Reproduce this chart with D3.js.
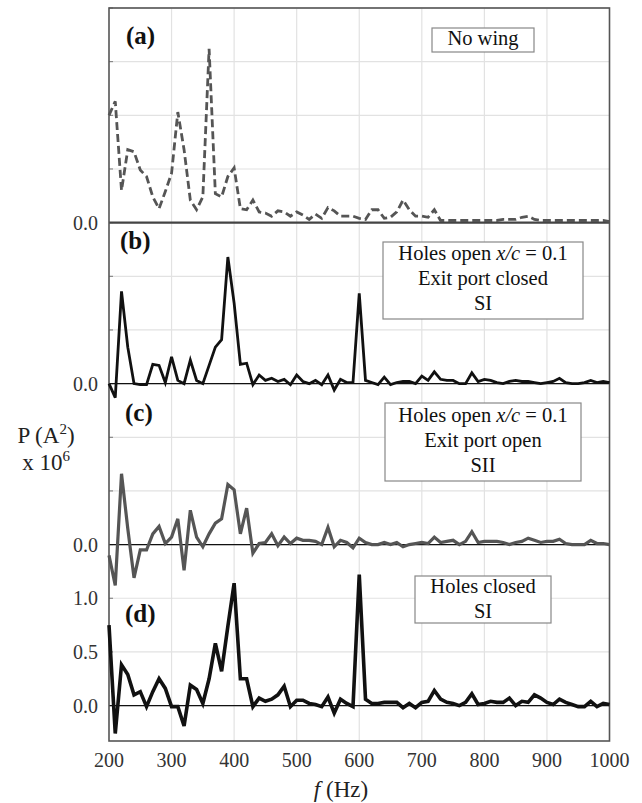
<!DOCTYPE html>
<head>
    <style>
        body { margin: 0; background: #fff; }
        svg { display: block; }
        text { font-family: "Liberation Serif", "DejaVu Serif", "Times New Roman", Times, serif; }
    </style>
</head>
<body>
    <script src="https://d3js.org/d3.v7.min.js"></script>
    <script>
        const w = 642, h = 803;
        const serif = '"Liberation Serif", "DejaVu Serif", "Times New Roman", Times, serif';

        // frequency samples (Hz), one every 10 Hz
        const freq = d3.range(200, 1001, 10);

        // P (A^2) x 10^6 for each panel
        const noWing = [
            1.00, 1.13, 0.30, 0.68, 0.66, 0.49, 0.43, 0.24, 0.13, 0.29,
            0.46, 1.03, 0.68, 0.21, 0.12, 0.24, 1.62, 0.27, 0.24, 0.43,
            0.51, 0.13, 0.12, 0.21, 0.10, 0.09, 0.06, 0.11, 0.10, 0.06,
            0.10, 0.07, 0.03, 0.08, 0.04, 0.14, 0.11, 0.06, 0.06, 0.06,
            0.04, 0.03, 0.12, 0.12, 0.04, 0.05, 0.10, 0.21, 0.12, 0.06,
            0.06, 0.05, 0.12, 0.02, 0.02, 0.02, 0.02, 0.02, 0.02, 0.02,
            0.02, 0.02, 0.02, 0.03, 0.03, 0.03, 0.05, 0.06, 0.03, 0.02,
            0.02, 0.02, 0.02, 0.02, 0.02, 0.02, 0.02, 0.02, 0.02, 0.02,
            0.01
        ];
        const openClosedSI = [
            0.00, -0.13, 0.86, 0.34, 0.00, -0.01, -0.01, 0.18, 0.17, 0.01,
            0.25, 0.03, 0.00, 0.22, 0.03, 0.00, 0.17, 0.34, 0.41, 1.18,
            0.75, 0.18, 0.19, -0.01, 0.08, 0.03, 0.05, 0.02, 0.04, -0.01,
            0.08, 0.02, 0.00, 0.03, -0.01, 0.08, -0.06, 0.04, 0.01, 0.01,
            0.84, 0.03, 0.01, -0.01, 0.06, -0.01, 0.01, 0.02, 0.02, 0.00,
            0.07, 0.03, 0.11, 0.04, 0.03, 0.03, 0.00, 0.00, 0.10, 0.02,
            0.04, 0.03, 0.01, 0.00, 0.02, 0.03, 0.02, 0.02, 0.01, 0.00,
            0.01, 0.02, 0.05, 0.01, 0.00, 0.00, 0.01, 0.03, 0.01, 0.02,
            0.01
        ];
        const openOpenSII = [
            -0.10, -0.38, 0.66, 0.15, -0.31, -0.05, -0.05, 0.10, 0.17, 0.01,
            0.07, 0.24, -0.24, 0.32, 0.07, -0.02, 0.10, 0.20, 0.24, 0.56,
            0.51, 0.10, 0.34, -0.08, 0.01, 0.02, 0.10, -0.01, 0.07, 0.01,
            0.06, 0.04, 0.04, 0.03, 0.00, 0.16, -0.02, 0.04, 0.02, -0.03,
            0.06, 0.02, 0.00, 0.00, 0.02, 0.00, 0.02, -0.02, 0.00, 0.01,
            0.02, 0.01, 0.07, 0.02, 0.03, 0.04, 0.00, 0.03, 0.12, 0.02,
            0.03, 0.03, 0.03, 0.02, 0.00, 0.02, 0.03, 0.06, 0.04, 0.02,
            0.03, 0.03, 0.05, 0.01, 0.00, 0.00, 0.00, 0.04, 0.01, 0.01,
            0.00
        ];
        const closedSI = [
            0.75, -0.26, 0.38, 0.29, 0.10, 0.13, -0.01, 0.13, 0.25, 0.16,
            -0.01, -0.01, -0.19, 0.19, 0.15, 0.02, 0.25, 0.58, 0.32, 0.74,
            1.14, 0.25, 0.25, -0.01, 0.07, 0.04, 0.06, 0.10, 0.18, -0.01,
            0.05, 0.05, 0.02, 0.01, -0.01, 0.08, -0.07, 0.06, 0.02, -0.01,
            1.22, 0.06, 0.02, 0.02, 0.03, 0.03, 0.03, -0.02, 0.02, -0.02,
            0.03, 0.04, 0.14, 0.06, 0.03, 0.02, 0.00, 0.03, 0.11, 0.01,
            0.02, 0.04, 0.03, 0.03, 0.07, 0.00, 0.04, 0.03, 0.10, 0.07,
            0.03, 0.01, 0.06, 0.03, 0.01, -0.01, -0.01, 0.04, -0.01, 0.02,
            0.01
        ];

        const xTicks = [200, 300, 400, 500, 600, 700, 800, 900, 1000];
        const panelLetters = ['(a)', '(b)', '(c)', '(d)'];
        const panelOffsets = [4.5, 3.0, 1.5, 0.0];
        const legendLines = [
            ['No wing'],
            ['Holes open |x/c| = 0.1', 'Exit port closed', 'SI'],
            ['Holes open |x/c| = 0.1', 'Exit port open', 'SII'],
            ['Holes closed', 'SI']
        ];
        const dTicks = [0.5, 1.0];

        const panels = [
            { values: noWing, color: '#555', width: 2.8, dash: '8,4' },
            { values: openClosedSI, color: '#111', width: 2.8, dash: null },
            { values: openOpenSII, color: '#555', width: 3.2, dash: null },
            { values: closedSI, color: '#111', width: 3.6, dash: null }
        ];

        const x = d3.scaleLinear().domain([200, 1000]).range([109, 609.5]);
        const y = d3.scaleLinear().domain([-0.33, 6.5]).range([741, 8]);

        const svg = d3.select('body')
                      .append('svg')
                      .attr('width', w)
                      .attr('height', h)
                      .attr('font-family', serif);

        // grid
        const hGrid = d3.range(0, 6.51, 0.5);
        svg.append('g')
           .selectAll('line')
           .data(hGrid)
           .enter()
           .append('line')
           .attr('x1', x(200)).attr('x2', x(1000))
           .attr('y1', d => y(d)).attr('y2', d => y(d))
           .attr('stroke', '#e2e2e2').attr('stroke-width', 1.2);

        svg.append('g')
           .selectAll('line')
           .data(xTicks.slice(1, -1))
           .enter()
           .append('line')
           .attr('x1', d => x(d)).attr('x2', d => x(d))
           .attr('y1', y(6.5)).attr('y2', y(-0.33))
           .attr('stroke', '#e2e2e2').attr('stroke-width', 1.2);

        // small ticks on the left edge
        svg.append('g')
           .selectAll('line')
           .data(hGrid)
           .enter()
           .append('line')
           .attr('x1', x(200)).attr('x2', x(200) + 4)
           .attr('y1', d => y(d)).attr('y2', d => y(d))
           .attr('stroke', '#777').attr('stroke-width', 1);

        // zero lines of each panel
        svg.append('g')
           .selectAll('line')
           .data(panelOffsets)
           .enter()
           .append('line')
           .attr('x1', x(200)).attr('x2', x(1000))
           .attr('y1', d => y(d)).attr('y2', d => y(d))
           .attr('stroke', (d, i) => i === 0 ? '#444' : '#111')
           .attr('stroke-width', (d, i) => i === 0 ? 2.2 : 1.2);

        // frame
        svg.append('rect')
           .attr('x', x(200)).attr('y', y(6.5))
           .attr('width', x(1000) - x(200))
           .attr('height', y(-0.33) - y(6.5))
           .attr('fill', 'none')
           .attr('stroke', '#555')
           .attr('stroke-width', 1.6);

        // traces
        panels.forEach((p, i) => {
            const off = panelOffsets[i];
            const line = d3.line()
                           .x((d, j) => x(freq[j]))
                           .y(d => y(d + off));
            svg.append('path')
               .datum(p.values)
               .attr('d', line)
               .attr('fill', 'none')
               .attr('stroke', p.color)
               .attr('stroke-width', p.width)
               .attr('stroke-linejoin', 'miter')
               .attr('stroke-dasharray', p.dash);
        });

        // panel letters
        const letterPos = [[126, 44], [120, 249], [125, 421], [125, 622]];
        svg.selectAll('text.letter')
           .data(panelLetters)
           .enter()
           .append('text')
           .attr('class', 'letter')
           .attr('x', (d, i) => letterPos[i][0])
           .attr('y', (d, i) => letterPos[i][1])
           .attr('font-size', 25)
           .attr('font-weight', 'bold')
           .attr('fill', '#111')
           .text(d => d);

        // legend boxes
        const boxes = [
            { x: 432, y: 28, w: 102, h: 24, base: 45 },
            { x: 383, y: 242, w: 200, h: 77, base: 260 },
            { x: 385, y: 403, w: 196, h: 78, base: 422 },
            { x: 415, y: 576, w: 136, h: 47, base: 593 }
        ];
        boxes.forEach((b, i) => {
            svg.append('rect')
               .attr('x', b.x).attr('y', b.y)
               .attr('width', b.w).attr('height', b.h)
               .attr('fill', '#fff')
               .attr('stroke', '#888')
               .attr('stroke-width', 1.2);
            legendLines[i].forEach((ln, k) => {
                const t = svg.append('text')
                             .attr('x', b.x + b.w / 2)
                             .attr('y', b.base + k * 25)
                             .attr('text-anchor', 'middle')
                             .attr('font-size', 20.5)
                             .attr('fill', '#111');
                ln.split('|').forEach((part, m) => {
                    t.append('tspan')
                     .attr('font-style', m === 1 ? 'italic' : null)
                     .text(part);
                });
            });
        });

        // y tick labels
        const yLabels = panelOffsets.map(o => ({ v: o, t: '0.0' }))
                                    .concat(dTicks.map(v => ({ v: v, t: d3.format('.1f')(v) })));
        svg.selectAll('text.ylab')
           .data(yLabels)
           .enter()
           .append('text')
           .attr('class', 'ylab')
           .attr('x', 98)
           .attr('y', d => y(d.v) + 7)
           .attr('text-anchor', 'end')
           .attr('font-size', 20)
           .attr('fill', '#333')
           .text(d => d.t);

        // x axis tick labels
        svg.selectAll('text.xlab')
           .data(xTicks)
           .enter()
           .append('text')
           .attr('class', 'xlab')
           .attr('x', d => x(d))
           .attr('y', 767)
           .attr('text-anchor', 'middle')
           .attr('font-size', 20)
           .attr('fill', '#333')
           .text(d => d);

        // axis titles
        const xt = svg.append('text')
                      .attr('x', 341).attr('y', 797)
                      .attr('text-anchor', 'middle')
                      .attr('font-size', 23)
                      .attr('fill', '#222');
        xt.append('tspan').attr('font-style', 'italic').text('f');
        xt.append('tspan').text(' (Hz)');

        const yt = svg.append('text')
                      .attr('x', 46).attr('y', 443)
                      .attr('text-anchor', 'middle')
                      .attr('font-size', 23)
                      .attr('fill', '#222');
        yt.append('tspan').text('P (A');
        yt.append('tspan').attr('font-size', 15).attr('dy', -9).text('2');
        yt.append('tspan').attr('dy', 9).text(')');

        const yt2 = svg.append('text')
                       .attr('x', 46).attr('y', 470)
                       .attr('text-anchor', 'middle')
                       .attr('font-size', 23)
                       .attr('fill', '#222');
        yt2.append('tspan').text('x 10');
        yt2.append('tspan').attr('font-size', 15).attr('dy', -9).text('6');
    </script>
</body>
